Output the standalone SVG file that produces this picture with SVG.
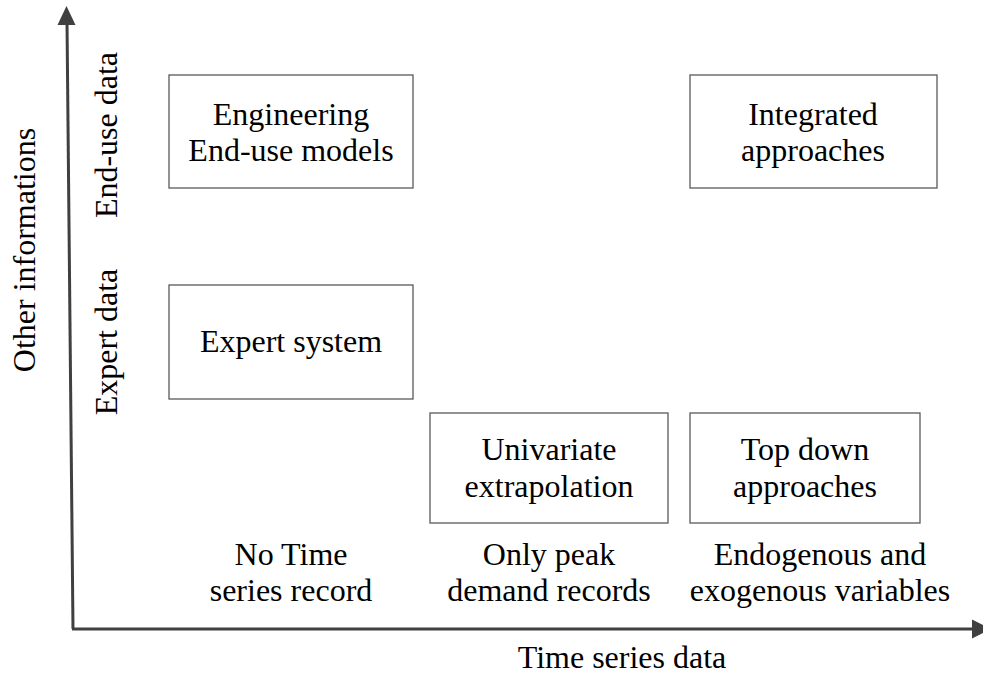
<svg xmlns="http://www.w3.org/2000/svg" width="983" height="677" viewBox="0 0 983 677">
<style>
.box{fill:#fff;stroke:#595959;stroke-width:1.3}
.t{font-family:"Liberation Serif","Times New Roman",serif;font-size:32px;fill:#000;text-anchor:middle}
.ax{stroke:#404040;stroke-width:3;fill:none}
.ah{fill:#404040}
</style>
<rect width="983" height="677" fill="#fff"/>
<g id="connectors">
<line class="ax" x1="67" y1="22" x2="73" y2="629"/>
<polygon class="ah" points="66.5,6 57.5,25 75.5,25"/>
<line class="ax" x1="72" y1="629" x2="974" y2="629"/>
<polygon class="ah" points="991,629 972,619.5 972,638.5"/>
</g>
<g id="engineering">
<rect class="box" x="169" y="75" width="244" height="113"/>
<text class="t" x="291" y="125">Engineering</text>
<text class="t" x="291" y="161">End-use models</text>
</g>
<g id="integrated">
<rect class="box" x="690" y="75" width="247" height="113"/>
<text class="t" x="813" y="125">Integrated</text>
<text class="t" x="813" y="161">approaches</text>
</g>
<g id="expert">
<rect class="box" x="169" y="285" width="244" height="114"/>
<text class="t" x="291" y="352">Expert system</text>
</g>
<g id="univariate">
<rect class="box" x="430" y="413" width="238" height="110"/>
<text class="t" x="549" y="460">Univariate</text>
<text class="t" x="549" y="497">extrapolation</text>
</g>
<g id="topdown">
<rect class="box" x="690" y="413" width="230" height="110"/>
<text class="t" x="805" y="460">Top down</text>
<text class="t" x="805" y="497">approaches</text>
</g>
<g id="xlabels">
<text class="t" x="291" y="565">No Time</text>
<text class="t" x="291" y="601">series record</text>
<text class="t" x="549" y="565">Only peak</text>
<text class="t" x="549" y="601">demand records</text>
<text class="t" x="820" y="565">Endogenous and</text>
<text class="t" x="820" y="601">exogenous variables</text>
<text class="t" x="622" y="668">Time series data</text>
</g>
<g id="ylabels">
<text class="t" transform="translate(35,250) rotate(-90)">Other informations</text>
<text class="t" transform="translate(117,135) rotate(-90)">End-use data</text>
<text class="t" transform="translate(117,342) rotate(-90)">Expert data</text>
</g>
</svg>
